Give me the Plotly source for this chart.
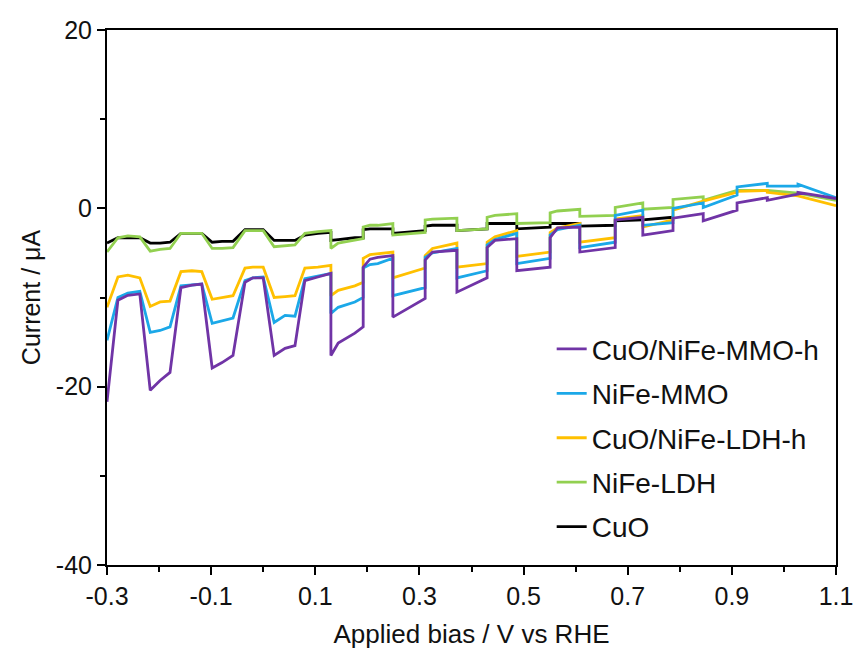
import plotly.graph_objects as go

# Applied bias (V vs RHE) sample positions (repeated values = chopped-light steps)
bias = [-0.300, -0.279, -0.260, -0.237, -0.217, -0.198, -0.179, -0.158, -0.137, -0.118,
        -0.098, -0.079, -0.058, -0.035, -0.020, 0.000, 0.021, 0.042, 0.061, 0.080,
        0.105, 0.130, 0.130, 0.144, 0.176, 0.192, 0.192, 0.205, 0.220, 0.249,
        0.249, 0.311, 0.311, 0.325, 0.372, 0.372, 0.430, 0.430, 0.445, 0.487,
        0.487, 0.551, 0.551, 0.565, 0.608, 0.608, 0.676, 0.676, 0.729, 0.729,
        0.787, 0.787, 0.845, 0.845, 0.910, 0.910, 0.968, 0.968, 1.027, 1.027, 1.100]

cuo_nife_mmo_h = [-21.7, -10.3, -9.75, -9.6, -20.4, -19.3, -18.4, -8.9, -8.6, -8.5,
                  -17.9, -17.3, -16.5, -8.3, -7.8, -7.8, -16.5, -15.7, -15.4, -8.1,
                  -7.7, -7.3, -16.5, -15.1, -14.0, -13.3, -6.6, -5.7, -5.5, -5.3,
                  -12.2, -10.1, -5.8, -4.9, -4.7, -9.4, -7.8, -4.4, -3.6, -3.4,
                  -7.0, -6.6, -3.3, -2.2, -2.1, -4.9, -4.4, -1.3, -1.0, -3.0,
                  -2.5, -1.1, -0.6, -1.4, -0.2, 0.6, 1.2, 0.9, 1.6, 1.8, 1.1]

nife_mmo = [-14.8, -10.0, -9.5, -9.3, -13.9, -13.7, -13.3, -8.7, -8.6, -8.5,
            -12.9, -12.6, -12.3, -8.1, -7.8, -7.7, -12.8, -12.0, -12.1, -7.9,
            -7.6, -7.3, -11.8, -11.1, -10.5, -10.0, -6.7, -6.3, -6.2, -5.6,
            -9.8, -8.9, -5.5, -5.0, -4.5, -7.8, -7.0, -4.1, -3.5, -2.8,
            -6.2, -5.6, -3.0, -2.4, -1.9, -4.4, -3.8, -0.8, -0.2, -1.9,
            -1.6, 0.0, 0.6, 0.1, 1.5, 2.4, 2.8, 2.5, 2.5, 2.7, 1.2]

cuo_nife_ldh_h = [-11.1, -7.7, -7.5, -7.8, -11.0, -10.5, -10.4, -7.1, -7.0, -7.1,
                  -10.2, -10.0, -9.8, -6.7, -6.6, -6.6, -10.0, -9.9, -9.8, -6.7,
                  -6.6, -6.4, -9.8, -9.2, -8.7, -8.3, -5.6, -5.2, -5.1, -4.9,
                  -7.8, -6.7, -5.3, -4.5, -3.9, -6.6, -6.2, -3.8, -3.2, -2.5,
                  -5.4, -4.9, -2.7, -2.2, -1.7, -3.8, -3.3, -1.2, -0.8, -2.1,
                  -1.3, -0.2, 0.8, 0.8, 1.8, 1.9, 2.0, 1.8, 1.4, 1.4, 0.3]

nife_ldh = [-4.9, -3.3, -3.1, -3.2, -4.8, -4.6, -4.5, -2.8, -2.8, -2.8,
            -4.5, -4.5, -4.4, -2.5, -2.5, -2.5, -4.3, -4.2, -4.1, -2.8,
            -2.6, -2.5, -4.5, -3.9, -3.6, -3.4, -2.1, -1.9, -1.9, -1.7,
            -3.0, -2.7, -1.3, -1.2, -1.1, -2.5, -2.3, -1.0, -0.8, -0.6,
            -1.7, -1.6, -0.5, -0.3, -0.1, -0.9, -0.8, 0.1, 0.6, -0.1,
            0.1, 1.0, 1.3, 0.9, 2.0, 2.0, 2.0, 2.0, 1.7, 1.7, 0.9]

cuo = [-3.9, -3.3, -3.3, -3.3, -3.9, -3.9, -3.8, -2.8, -2.8, -2.8,
       -3.8, -3.7, -3.7, -2.4, -2.4, -2.4, -3.6, -3.6, -3.6, -3.0,
       -2.8, -2.7, -3.6, -3.5, -3.3, -3.3, -2.4, -2.3, -2.3, -2.3,
       -2.8, -2.5, -2.0, -1.9, -1.9, -2.5, -2.3, -1.7, -1.7, -1.7,
       -2.3, -2.1, -1.7, -1.7, -1.7, -2.0, -1.9, -1.4, -1.3, -1.3,
       -1.0, None, None, None, None, None, None, None, None, None, None]

x_tickvals = [-0.3, -0.1, 0.1, 0.3, 0.5, 0.7, 0.9, 1.1]
x_ticktext = ["-0.3", "-0.1", "0.1", "0.3", "0.5", "0.7", "0.9", "1.1"]
x_minor = [-0.2, 0.0, 0.2, 0.4, 0.6, 0.8, 1.0]
y_tickvals = [-40, -20, 0, 20]
y_ticktext = ["-40", "-20", "0", "20"]
y_minor = [-30, -10, 10]

# (name, values, colour, legend rank) -- drawn in list order, listed by rank
series = [
    ("CuO", cuo, "#000000", 5),
    ("NiFe-LDH", nife_ldh, "#92D050", 4),
    ("CuO/NiFe-LDH-h", cuo_nife_ldh_h, "#FFC000", 3),
    ("NiFe-MMO", nife_mmo, "#1BA8E8", 2),
    ("CuO/NiFe-MMO-h", cuo_nife_mmo_h, "#7034A6", 1),
]

fig = go.Figure()
for i, (name, vals, col, rank) in enumerate(series):
    fig.add_trace(go.Scatter(x=bias, y=vals, mode="lines", name=name,
                             legendgroup=f"g{i}", legendrank=rank,
                             line=dict(color=col, width=2.8),
                             connectgaps=False))

font_family = "Liberation Sans, Arial, sans-serif"
fig.update_layout(
    width=858, height=651,
    margin=dict(l=107, r=22, t=30, b=86),
    paper_bgcolor="white", plot_bgcolor="white",
    font=dict(family=font_family, size=24, color="#111111"),
    showlegend=True,
    legend=dict(x=0.61, y=0.45, xanchor="left", yanchor="top",
                traceorder="grouped", tracegroupgap=5,
                bgcolor="rgba(0,0,0,0)", font=dict(size=28)),
    xaxis=dict(range=[-0.3, 1.1], tickmode="array", tickvals=x_tickvals,
               ticktext=x_ticktext, tickfont=dict(size=25), automargin=False,
               showgrid=False, zeroline=False, showline=True, linecolor="black",
               linewidth=2, mirror=True, ticks="outside", ticklen=8, tickwidth=2,
               tickcolor="black",
               minor=dict(tickmode="array", tickvals=x_minor, ticks="outside",
                          ticklen=5, tickwidth=2, tickcolor="black"),
               title=dict(text="Applied bias / V vs RHE", standoff=16,
                          font=dict(size=26))),
    yaxis=dict(range=[-40, 20], tickmode="array", tickvals=y_tickvals,
               ticktext=y_ticktext, tickfont=dict(size=25), automargin=False,
               showgrid=False, zeroline=False, showline=True, linecolor="black",
               linewidth=2, mirror=True, ticks="outside", ticklen=8, tickwidth=2,
               tickcolor="black",
               minor=dict(tickmode="array", tickvals=y_minor, ticks="outside",
                          ticklen=5, tickwidth=2, tickcolor="black"),
               title=dict(text="Current / μA", standoff=8, font=dict(size=25))),
)

fig.write_html("out.html")
